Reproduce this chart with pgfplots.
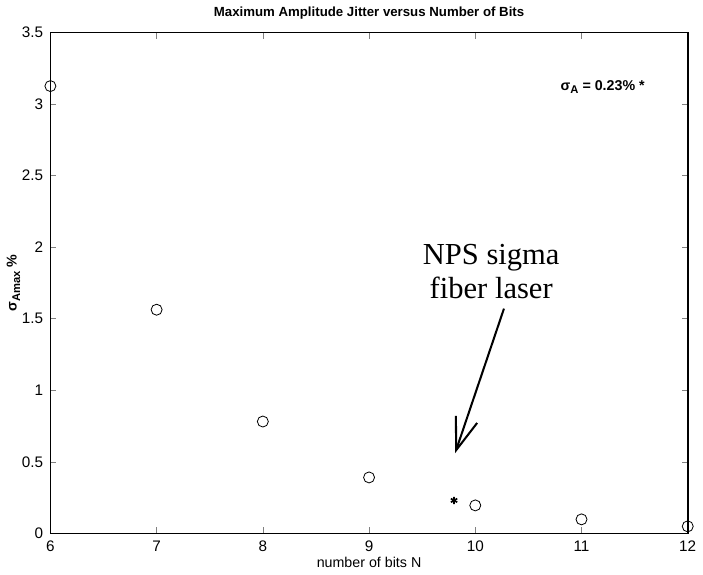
\documentclass[border=0pt]{standalone}
\usepackage{fontspec}
\setmainfont{Liberation Serif}
\setsansfont{Liberation Sans}
\usepackage{pgfplots}
\pgfplotsset{compat=1.18}
\usetikzlibrary{arrows.meta}

\newcommand{\sig}[1]{σ\raisebox{-0.45ex}{\fontsize{5.5}{6}\selectfont #1}}

\begin{document}
\begin{tikzpicture}
\begin{axis}[
    scale only axis,
    width=313pt, height=246pt,
    xmin=6, xmax=12, ymin=0, ymax=3.5,
    xtick={6,...,12},
    ytick={0,0.5,...,3.5},
    yticklabels={0,0.5,1,1.5,2,2.5,3,3.5},
    tick align=inside,
    tick pos=both,
    major tick length=3pt,
    axis line style={line width=0.8pt},
    tick label style={font=\sffamily\fontsize{7.5}{8}\selectfont},
    /pgf/number format/assume math mode=true,
    title={\sffamily\bfseries\fontsize{6.5}{7}\selectfont Maximum Amplitude Jitter versus Number of Bits},
    title style={yshift=-3pt},
    xlabel={\sffamily\fontsize{7}{8}\selectfont number of bits N},
    xlabel style={yshift=4pt},
    ylabel={\sffamily\bfseries\fontsize{7}{8}\selectfont \sig{Amax} \%},
    ylabel style={yshift=-6pt},
    clip=false,
]
\addplot[only marks, mark=o, mark size=2.7pt, black, thin] coordinates {
    (6,3.125) (7,1.5625) (8,0.78125) (9,0.390625) (10,0.1953) (11,0.0977) (12,0.0488)
};
\addplot[only marks, mark=asterisk, mark size=1.8pt, black, thick] coordinates {
    (9.8,0.23)
};
\node[font=\sffamily\bfseries\fontsize{7}{8}\selectfont] at (axis cs:11.2,3.12) {\sig{A} = 0.23\% *};
\node[align=center, font=\fontsize{15}{17}\selectfont] at (axis cs:10.15,1.83) {NPS sigma\\fiber laser};
\draw[line width=1pt, -{Straight Barb[length=16pt,width=11pt,line width=1pt]}] (axis cs:10.27,1.57) -- (axis cs:9.81,0.56);
\end{axis}
\end{tikzpicture}
\end{document}
